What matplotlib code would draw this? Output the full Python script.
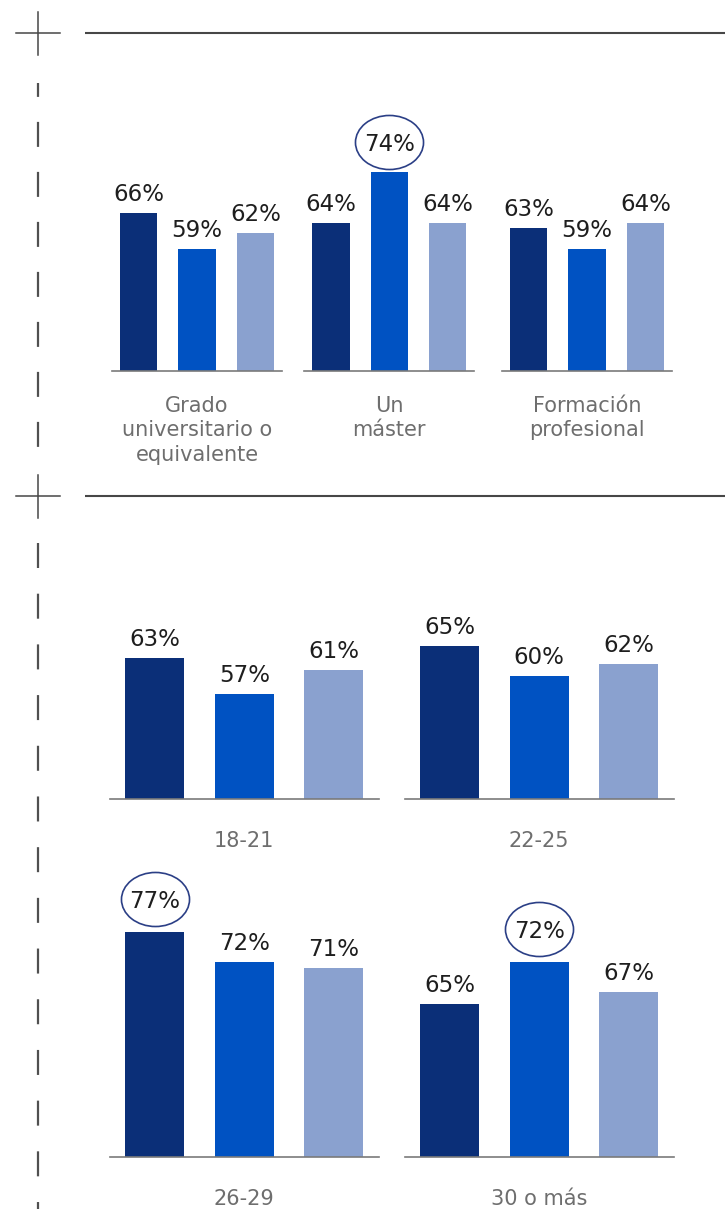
import numpy as np
import matplotlib
matplotlib.use('Agg')
import matplotlib.pyplot as plt
from matplotlib.path import Path
from matplotlib.transforms import Affine2D, ScaledTranslation

plt.rcParams['font.family'] = ['DejaVu Sans']
plt.rcParams['lines.scale_dashes'] = False

# datos
bar_colors = ['#0b2f78', '#0052c2', '#8aa1cf']
edu_labels = ['Grado\nuniversitario o\nequivalente', 'Un\nmáster', 'Formación\nprofesional']
edu_values = [[66, 59, 62], [64, 74, 64], [63, 59, 64]]
edu_highlight = [None, 1, None]
age_labels = ['18-21', '22-25', '26-29', '30 o más']
age_values = [[63, 57, 61], [65, 60, 62], [77, 72, 71], [65, 72, 67]]
age_highlight = [None, None, 0, 1]

W, H = 725, 1209
fig = plt.figure(figsize=(W / 100, H / 100), dpi=100)
fig.patch.set_facecolor('white')

# capa de decoracion (cruces, reglas y linea discontinua)
deco = fig.add_axes([0, 0, 1, 1])
deco.set_xlim(0, W)
deco.set_ylim(H, 0)
deco.axis('off')

line_col = '#474747'
for yc in [33, 496]:
    deco.plot([85, W], [yc, yc], color=line_col, lw=1.5, solid_capstyle='butt')
    deco.plot([16, 60], [yc, yc], color=line_col, lw=1.1)
    deco.plot([38, 38], [yc - 21, yc + 22], color=line_col, lw=1.1)
deco.plot([38, 38], [83, 470], color='#505050', lw=1.6,
          linestyle=(8, (18, 18)))
deco.plot([38, 38], [543, H], color='#505050', lw=1.6,
          linestyle=(0, (18, 18.5)))

ellipse = Affine2D().scale(1.0, 54 / 68).transform_path(Path.unit_circle())


def px_axes(x0, width, y_top, y_base):
    return fig.add_axes([x0 / W, 1 - y_base / H, width / W, (y_base - y_top) / H])


def draw_group(ax, values, label, highlight, ymin, bar_w, xpad, label_gap, circ_dy):
    x = np.arange(len(values))
    ax.bar(x, values, width=bar_w, color=bar_colors)
    ax.set_ylim(ymin, 80)
    ax.set_xlim(-xpad, len(values) - 1 + xpad)
    for s in ['top', 'right', 'left']:
        ax.spines[s].set_visible(False)
    ax.spines['bottom'].set_color('#7a7a7a')
    ax.spines['bottom'].set_linewidth(1.2)
    ax.set_xticks([])
    ax.set_yticks([])
    ax.patch.set_alpha(0)
    for i, v in enumerate(values):
        if i == highlight:
            off = ScaledTranslation(0, circ_dy / 72, fig.dpi_scale_trans)
            ax.plot(i, v, marker=ellipse, ms=49, mfc='none', mec='#2b3f86',
                    mew=1.2, transform=ax.transData + off, clip_on=False)
            ax.annotate(f'{v}%', (i, v), xytext=(0, circ_dy), textcoords='offset points',
                        ha='center', va='center_baseline', fontsize=16.5, color='#1e1e1e',
                        annotation_clip=False)
        else:
            ax.annotate(f'{v}%', (i, v), xytext=(0, 5), textcoords='offset points',
                        ha='center', va='bottom', fontsize=16.5, color='#1e1e1e',
                        annotation_clip=False)
    ax.annotate(label, (0.5, 0), xycoords='axes fraction', xytext=(0, -label_gap),
                textcoords='offset points', ha='center', va='top', fontsize=15,
                color='#6e6e6e', linespacing=1.28, annotation_clip=False)


# seccion de estudios
edu_left = [111.7, 304, 501.7]
for left, vals, lab, hl in zip(edu_left, edu_values, edu_labels, edu_highlight):
    ax = px_axes(left, 170.5, 371 - 45 * 5.1, 371)
    draw_group(ax, vals, lab, hl, 35, 0.64, 0.46, 18, 22)

# seccion de edades
age_left = [110, 405, 110, 405]
age_base = [799, 799, 1157, 1157]
for left, base, vals, lab, hl in zip(age_left, age_base, age_values, age_labels, age_highlight):
    ax = px_axes(left, 268.5, base - 40.5 * 6, base)
    draw_group(ax, vals, lab, hl, 39.5, 0.66, 0.5, 23, 24)

fig.savefig('out.png', dpi=100)
